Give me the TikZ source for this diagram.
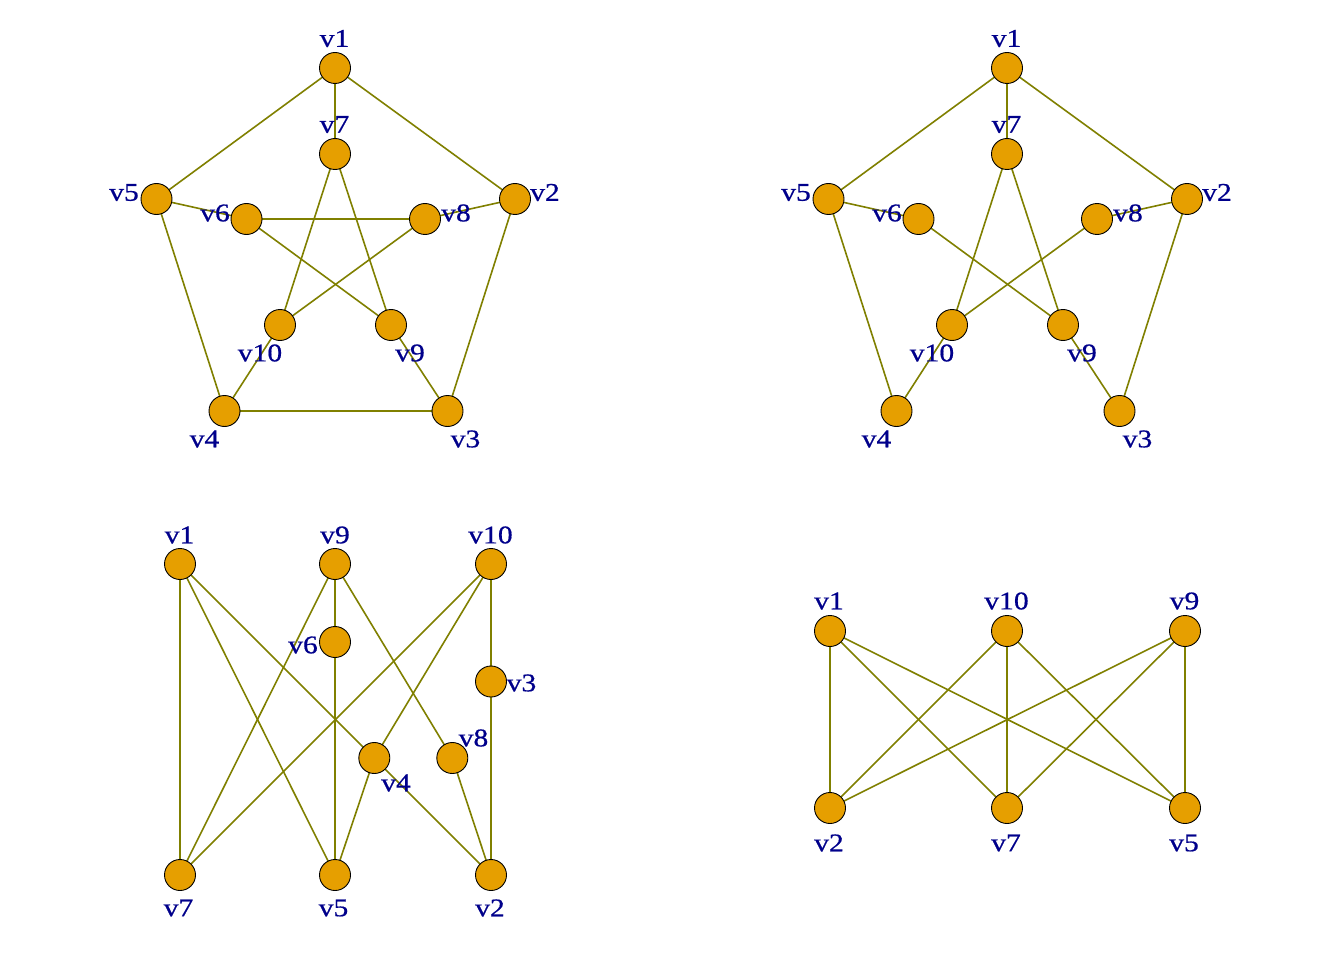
\documentclass[tikz,border=0pt]{standalone}
\usepackage{fontspec}
\setmainfont{Liberation Serif}[FakeStretch=1.16,FakeBold=0.6]
\definecolor{vfill}{RGB}{230,159,0}
\definecolor{edgecol}{RGB}{128,128,0}
\definecolor{labcol}{RGB}{0,0,139}
\tikzset{
  vert/.style={circle,draw=black,line width=0.9pt,fill=vfill,minimum size=31pt,inner sep=0pt},
  lab/.style={text=labcol,inner sep=0pt,font=\fontsize{25.5}{30}\selectfont},
  edge/.style={draw=edgecol,line width=1.6pt}
}
\begin{document}
\begin{tikzpicture}[x=1pt,y=-1pt]
\useasboundingbox (0,0) rectangle (1344,960);
\fill[white] (0,0) rectangle (1344,960);
% ---------- graph A (top left) ----------
\begin{scope}
\coordinate (a1) at (335,68);
\coordinate (a7) at (335,154);
\coordinate (a5) at (156.5,199);
\coordinate (a2) at (515,199);
\coordinate (a6) at (246.5,219);
\coordinate (a8) at (425,219);
\coordinate (a10) at (280,325);
\coordinate (a9) at (391,325);
\coordinate (a4) at (224.5,411);
\coordinate (a3) at (447.5,411);
\foreach \u/\v in {1/2,1/5,1/7,2/3,2/8,3/4,3/9,4/5,4/10,5/6,6/8,6/9,7/10,7/9,8/10}
  \draw[edge] (a\u) -- (a\v);
\foreach \i in {1,...,10} \node[vert] (A\i) at (a\i) {};
\node[lab] (la1) at (334.5,38.5) {v1};
\node[lab] (la7) at (334.5,124.5) {v7};
\node[lab] (la5) at (124,192.5) {v5};
\node[lab] (la2) at (545,192.5) {v2};
\node[lab] (la6) at (215,213) {v6};
\node[lab] (la8) at (456,213) {v8};
\node[lab] (la10) at (260,353) {v10};
\node[lab] (la9) at (410,353) {v9};
\node[lab] (la4) at (204.5,439) {v4};
\node[lab] (la3) at (465.5,439) {v3};
\end{scope}
% ---------- graph B (top right) ----------
\begin{scope}[xshift=672pt]
\coordinate (b1) at (335,68);
\coordinate (b7) at (335,154);
\coordinate (b5) at (156.5,199);
\coordinate (b2) at (515,199);
\coordinate (b6) at (246.5,219);
\coordinate (b8) at (425,219);
\coordinate (b10) at (280,325);
\coordinate (b9) at (391,325);
\coordinate (b4) at (224.5,411);
\coordinate (b3) at (447.5,411);
\foreach \u/\v in {1/2,1/5,1/7,2/3,2/8,3/9,4/5,4/10,5/6,6/9,7/10,7/9,8/10}
  \draw[edge] (b\u) -- (b\v);
\foreach \i in {1,...,10} \node[vert] (B\i) at (b\i) {};
\node[lab] (lb1) at (334.5,38.5) {v1};
\node[lab] (lb7) at (334.5,124.5) {v7};
\node[lab] (lb5) at (124,192.5) {v5};
\node[lab] (lb2) at (545,192.5) {v2};
\node[lab] (lb6) at (215,213) {v6};
\node[lab] (lb8) at (456,213) {v8};
\node[lab] (lb10) at (260,353) {v10};
\node[lab] (lb9) at (410,353) {v9};
\node[lab] (lb4) at (204.5,439) {v4};
\node[lab] (lb3) at (465.5,439) {v3};
\end{scope}
% ---------- graph C (bottom left) ----------
\coordinate (c1) at (180,564);
\coordinate (c9) at (335,564);
\coordinate (c10) at (491,564);
\coordinate (c6) at (335,642);
\coordinate (c3) at (491,681.5);
\coordinate (c4) at (374.3,758);
\coordinate (c8) at (452.3,758);
\coordinate (c7) at (180,875);
\coordinate (c5) at (335,875);
\coordinate (c2) at (491,875);
\foreach \u/\v in {1/7,1/5,1/2,9/7,9/6,6/5,9/8,10/7,10/4,10/3,3/2,4/5,8/2}
  \draw[edge] (c\u) -- (c\v);
\foreach \i in {1,...,10} \node[vert] (C\i) at (c\i) {};
\node[lab] (lc1) at (179.5,535) {v1};
\node[lab] (lc9) at (335,535) {v9};
\node[lab] (lc10) at (490.5,535) {v10};
\node[lab] (lc6) at (303,645) {v6};
\node[lab] (lc3) at (521.5,683) {v3};
\node[lab] (lc8) at (473.5,738) {v8};
\node[lab] (lc4) at (396,783) {v4};
\node[lab] (lc7) at (178.5,908) {v7};
\node[lab] (lc5) at (333.5,908) {v5};
\node[lab] (lc2) at (490,908) {v2};
% ---------- graph D (bottom right) ----------
\coordinate (d1) at (830,631);
\coordinate (d10) at (1007,631);
\coordinate (d9) at (1185,631);
\coordinate (d2) at (830,808);
\coordinate (d7) at (1007,808);
\coordinate (d5) at (1185,808);
\foreach \u in {1,10,9}
  \foreach \v in {2,7,5}
    \draw[edge] (d\u) -- (d\v);
\foreach \i in {1,10,9,2,7,5} \node[vert] (D\i) at (d\i) {};
\node[lab] (ld1) at (829,601) {v1};
\node[lab] (ld10) at (1006.5,601) {v10};
\node[lab] (ld9) at (1184.5,601) {v9};
\node[lab] (ld2) at (829,843) {v2};
\node[lab] (ld7) at (1006,843) {v7};
\node[lab] (ld5) at (1184,843) {v5};
\end{tikzpicture}
\end{document}
